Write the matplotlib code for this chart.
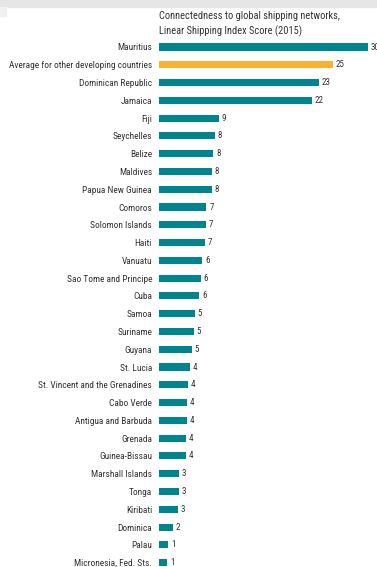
import matplotlib
matplotlib.use("Agg")
import matplotlib.pyplot as plt
from matplotlib.patches import Rectangle

countries = [
    "Mauritius", "Average for other developing countries", "Dominican Republic",
    "Jamaica", "Fiji", "Seychelles", "Belize", "Maldives", "Papua New Guinea",
    "Comoros", "Solomon Islands", "Haiti", "Vanuatu", "Sao Tome and Principe",
    "Cuba", "Samoa", "Suriname", "Guyana", "St. Lucia",
    "St. Vincent and the Grenadines", "Cabo Verde", "Antigua and Barbuda",
    "Grenada", "Guinea-Bissau", "Marshall Islands", "Tonga", "Kiribati",
    "Dominica", "Palau", "Micronesia, Fed. Sts.",
]
lsci = [
    30.0, 25.0, 22.9, 21.9, 8.6, 8.0, 7.8, 7.6, 7.6,
    6.8, 6.7, 6.6, 6.2, 6.0,
    5.8, 5.1, 5.0, 4.7, 4.4,
    4.2, 4.0, 4.0,
    3.9, 3.9, 2.9, 2.9, 2.7,
    2.0, 1.3, 1.2,
]
highlight = "Average for other developing countries"

TEAL = "#00848E"
ORANGE = "#F9B32F"
TXT = "#333333"
plt.rcParams["font.family"] = ["Roboto Condensed", "DejaVu Sans"]

W, H = 377, 567
fig = plt.figure(figsize=(W / 100, H / 100), dpi=100)

# grey band along the top edge
fig.patches.append(Rectangle((0, 1 - 7 / H), 1, 7 / H, transform=fig.transFigure,
                             color="#e6e6e6", zorder=0))
fig.patches.append(Rectangle((0, 1 - 16 / H), 6 / W, 9 / H, transform=fig.transFigure,
                             color="#f0f0f0", zorder=0))

# axes laid out in pixels: bars start at x=159, rows 17.78 px apart
x0, x1 = 159, W
row = 17.78
y_first = 47.0
top = y_first - row / 2
ax = fig.add_axes([x0 / W, 0, (x1 - x0) / W, 1 - top / H])
n = len(countries)
ax.set_ylim((H - y_first) / row, -0.5)
ax.set_xlim(0, (x1 - x0) / 6.97)

colors = [ORANGE if c == highlight else TEAL for c in countries]
ypos = list(range(n))
ax.barh(ypos, lsci, height=0.4, color=colors)
for y, v in zip(ypos, lsci):
    ax.text(v + 0.4, y, f"{v:.0f}", va="center", ha="left", fontsize=6.5,
            color=TXT, clip_on=False)

ax.set_yticks(ypos)
ax.set_yticklabels(countries, fontsize=6.75, color=TXT)
ax.tick_params(axis="y", length=0, pad=5)
ax.set_xticks([])
for s in ax.spines.values():
    s.set_visible(False)
ax.patch.set_alpha(0)

fig.text(x0 / W, 1 - 11 / H,
         "Connectedness to global shipping networks,\nLinear Shipping Index Score (2015)",
         ha="left", va="top", fontsize=7.5, color=TXT, linespacing=1.5)

fig.savefig("out.png", dpi=100)
